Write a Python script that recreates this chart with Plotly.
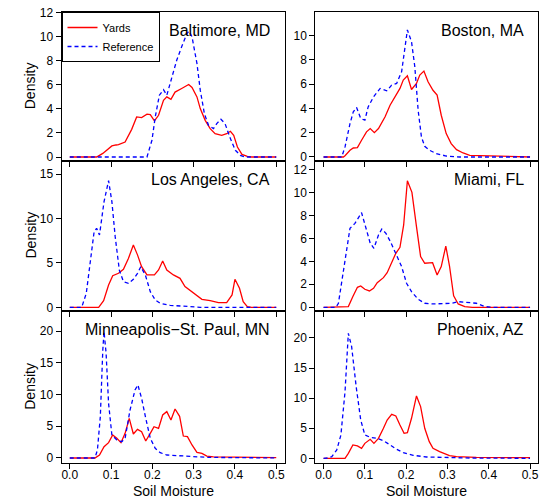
import plotly.graph_objects as go

# ---------------- data ----------------
cities = ["Baltimore, MD", "Boston, MA", "Los Angeles, CA", "Miami, FL",
          "Minneapolis\u2212St. Paul, MN", "Phoenix, AZ"]
x_ticks = [0.0, 0.1, 0.2, 0.3, 0.4, 0.5]

balt_yards_x = [0, 0.065, 0.08, 0.09, 0.102, 0.112, 0.118, 0.134, 0.15, 0.162, 0.174, 0.187, 0.195, 0.205, 0.215, 0.227, 0.235, 0.245, 0.255, 0.271, 0.288, 0.296, 0.308, 0.316, 0.328, 0.34, 0.352, 0.368, 0.38, 0.389, 0.397, 0.406, 0.417, 0.43, 0.44, 0.5]
balt_yards_y = [0, 0, 0.3, 0.6, 0.92, 1.0, 1.03, 1.25, 2.3, 3.33, 3.28, 3.56, 3.53, 3.0, 3.47, 4.72, 5.0, 4.8, 5.4, 5.7, 6.03, 5.78, 5.0, 4.03, 3.05, 2.36, 1.94, 1.8, 1.94, 2.14, 1.8, 0.83, 0.22, 0.05, 0, 0]
balt_ref_x = [0, 0.187, 0.199, 0.207, 0.217, 0.227, 0.235, 0.247, 0.259, 0.271, 0.284, 0.289, 0.296, 0.308, 0.316, 0.326, 0.336, 0.348, 0.356, 0.366, 0.376, 0.389, 0.401, 0.413, 0.425, 0.5]
balt_ref_y = [0, 0, 1.39, 3.33, 5.14, 5.6, 5.14, 6.67, 8.05, 9.17, 10.28, 10.47, 10.0, 7.78, 5.56, 3.61, 2.64, 2.36, 2.78, 3.14, 2.78, 1.53, 0.56, 0.14, 0, 0]

bos_yards_x = [0, 0.048, 0.052, 0.064, 0.072, 0.082, 0.092, 0.104, 0.113, 0.123, 0.133, 0.149, 0.161, 0.173, 0.185, 0.193, 0.203, 0.213, 0.225, 0.233, 0.243, 0.253, 0.265, 0.275, 0.285, 0.297, 0.309, 0.322, 0.338, 0.354, 0.386, 0.426, 0.45, 0.5]
bos_yards_y = [0, 0, 0.1, 0.55, 0.74, 0.77, 1.38, 2.07, 2.34, 2.01, 2.34, 3.31, 4.27, 4.96, 5.65, 6.34, 6.69, 5.56, 6.06, 6.75, 7.08, 6.2, 5.5, 5.1, 3.44, 1.93, 1.1, 0.6, 0.33, 0.14, 0.11, 0.08, 0, 0]
bos_ref_x = [0, 0.044, 0.052, 0.064, 0.072, 0.08, 0.09, 0.1, 0.108, 0.121, 0.137, 0.153, 0.165, 0.177, 0.189, 0.197, 0.203, 0.213, 0.221, 0.229, 0.237, 0.245, 0.257, 0.273, 0.297, 0.33, 0.5]
bos_ref_y = [0, 0, 0.83, 2.75, 3.72, 4.08, 3.17, 3.03, 4.13, 4.96, 5.65, 5.45, 5.92, 6.06, 7.02, 8.8, 10.47, 9.5, 7.44, 3.86, 1.65, 0.88, 0.55, 0.28, 0.08, 0, 0]

la_yards_x = [0, 0.07, 0.082, 0.094, 0.104, 0.118, 0.13, 0.142, 0.154, 0.164, 0.174, 0.187, 0.205, 0.215, 0.225, 0.235, 0.251, 0.267, 0.279, 0.3, 0.32, 0.34, 0.36, 0.38, 0.393, 0.4, 0.411, 0.42, 0.43, 0.44, 0.5]
la_yards_y = [0, 0, 0.75, 2.5, 3.56, 3.83, 4.27, 5.5, 7.0, 5.9, 4.57, 3.64, 3.64, 4.2, 5.2, 4.2, 3.64, 3.26, 2.33, 1.65, 0.9, 0.75, 0.53, 0.53, 1.39, 3.15, 2.14, 0.64, 0.08, 0, 0]
la_ref_x = [0, 0.029, 0.04, 0.049, 0.059, 0.065, 0.072, 0.083, 0.094, 0.102, 0.11, 0.12, 0.13, 0.142, 0.154, 0.164, 0.172, 0.183, 0.195, 0.207, 0.219, 0.243, 0.284, 0.316, 0.5]
la_ref_y = [0, 0, 1.57, 4.57, 8.51, 8.89, 8.14, 11.89, 14.25, 11.89, 7.95, 4.2, 2.89, 2.7, 3.15, 3.82, 4.57, 3.64, 1.76, 0.82, 0.45, 0.22, 0.08, 0, 0]

mia_yards_x = [0, 0.058, 0.06, 0.071, 0.082, 0.09, 0.1, 0.111, 0.121, 0.13, 0.145, 0.154, 0.165, 0.175, 0.185, 0.194, 0.203, 0.214, 0.225, 0.235, 0.245, 0.256, 0.264, 0.275, 0.285, 0.296, 0.305, 0.315, 0.326, 0.342, 0.36, 0.5]
mia_yards_y = [0, 0, 0.06, 0.93, 1.74, 1.86, 1.57, 1.42, 1.65, 2.14, 2.58, 3.01, 3.83, 4.7, 5.22, 7.16, 11.01, 10.0, 7.01, 4.41, 3.83, 3.83, 3.88, 2.81, 3.54, 5.33, 3.59, 0.99, 0.29, 0.06, 0, 0]
mia_ref_x = [0, 0.03, 0.036, 0.048, 0.058, 0.064, 0.076, 0.092, 0.104, 0.113, 0.122, 0.133, 0.141, 0.151, 0.162, 0.175, 0.189, 0.201, 0.213, 0.229, 0.245, 0.265, 0.289, 0.31, 0.326, 0.346, 0.37, 0.39, 0.41, 0.5]
mia_ref_y = [0, 0, 0.35, 3.25, 5.57, 6.87, 7.3, 8.23, 6.72, 5.57, 5.13, 6.29, 6.81, 6.43, 5.71, 4.7, 3.54, 2.09, 1.36, 0.7, 0.35, 0.29, 0.35, 0.35, 0.49, 0.43, 0.35, 0.06, 0, 0]

msp_yards_x = [0, 0.061, 0.072, 0.083, 0.094, 0.104, 0.114, 0.124, 0.134, 0.144, 0.154, 0.164, 0.174, 0.184, 0.195, 0.204, 0.215, 0.225, 0.235, 0.245, 0.255, 0.266, 0.275, 0.285, 0.296, 0.308, 0.32, 0.332, 0.348, 0.4, 0.5]
msp_yards_y = [0, 0, 0.47, 1.78, 2.41, 3.62, 3.1, 2.41, 3.88, 6.25, 3.78, 4.51, 4.15, 2.68, 3.88, 4.93, 4.67, 6.77, 7.3, 5.98, 7.72, 6.56, 3.46, 3.36, 2.05, 0.89, 0.73, 0.31, 0.16, 0.1, 0.05]
msp_ref_x = [0, 0.061, 0.067, 0.074, 0.08, 0.083, 0.088, 0.094, 0.102, 0.114, 0.126, 0.134, 0.146, 0.158, 0.165, 0.174, 0.184, 0.195, 0.207, 0.219, 0.235, 0.267, 0.3, 0.332, 0.5]
msp_ref_y = [0, 0, 1.26, 6.5, 17.0, 19.9, 16.5, 8.6, 3.62, 2.83, 2.57, 3.1, 7.56, 10.7, 11.5, 9.4, 6.25, 3.1, 1.52, 0.84, 0.47, 0.37, 0.21, 0.1, 0]

phx_yards_x = [0, 0.052, 0.06, 0.071, 0.082, 0.092, 0.1, 0.113, 0.122, 0.133, 0.145, 0.154, 0.165, 0.175, 0.185, 0.195, 0.203, 0.213, 0.225, 0.235, 0.245, 0.256, 0.265, 0.281, 0.305, 0.322, 0.37, 0.434, 0.5]
phx_yards_y = [0, 0, 0.83, 2.22, 2.05, 1.66, 2.49, 3.16, 2.49, 3.32, 4.99, 6.37, 7.31, 7.04, 5.54, 4.16, 4.27, 6.65, 10.36, 8.59, 4.99, 2.77, 1.66, 1.11, 0.44, 0.28, 0.17, 0.17, 0.1]
phx_ref_x = [0, 0.01, 0.02, 0.032, 0.042, 0.052, 0.06, 0.068, 0.079, 0.09, 0.1, 0.113, 0.129, 0.145, 0.161, 0.177, 0.193, 0.217, 0.249, 0.297, 0.354, 0.5]
phx_ref_y = [0, 0.05, 0.28, 1.39, 3.88, 11.08, 20.78, 18.56, 11.9, 6.37, 3.88, 3.49, 3.32, 2.94, 2.22, 1.5, 0.94, 0.5, 0.22, 0.11, 0.05, 0]

yards = [(balt_yards_x, balt_yards_y), (bos_yards_x, bos_yards_y), (la_yards_x, la_yards_y),
         (mia_yards_x, mia_yards_y), (msp_yards_x, msp_yards_y), (phx_yards_x, phx_yards_y)]
refs = [(balt_ref_x, balt_ref_y), (bos_ref_x, bos_ref_y), (la_ref_x, la_ref_y),
        (mia_ref_x, mia_ref_y), (msp_ref_x, msp_ref_y), (phx_ref_x, phx_ref_y)]

# ---------------- layout geometry (pixels) ----------------
W, H = 544, 498
cols = [(61.5, 284.5), (315.3, 538.3)]
rows = [(12, 160.5), (160.5, 310.5), (310.5, 463)]
y_ranges = [(-0.29, 12.06), (-0.29, 11.95), (-0.36, 16.52),
            (-0.28, 12.77), (-0.79, 23.23), (-0.78, 24.57)]
y_dticks = [2, 2, 5, 2, 5, 5]

FONT = "Liberation Sans, Arial, Helvetica, sans-serif"

fig = go.Figure()
layout = dict(
    width=W, height=H, autosize=False,
    margin=dict(l=0, r=0, t=0, b=0),
    paper_bgcolor="white", plot_bgcolor="rgba(0,0,0,0)",
    font=dict(family=FONT, color="black", size=12),
    showlegend=True,
    legend=dict(x=61.5 / W, y=1 - 12 / H, xanchor="left", yanchor="top",
                bordercolor="black", borderwidth=1, bgcolor="white",
                font=dict(size=11, family=FONT), tracegroupgap=0,
                itemwidth=30),
    annotations=[],
)

for i in range(6):
    r, c = divmod(i, 2)
    xa = "x" if i == 0 else f"x{i+1}"
    ya = "y" if i == 0 else f"y{i+1}"
    xk = "xaxis" if i == 0 else f"xaxis{i+1}"
    yk = "yaxis" if i == 0 else f"yaxis{i+1}"
    x0, x1 = cols[c]
    t, b = rows[r]
    layout[xk] = dict(domain=[x0 / W, x1 / W], anchor=ya, range=[-0.02, 0.52],
                      tickvals=x_ticks, tickformat=".1f",
                      showticklabels=(r == 2), ticks="outside", ticklen=5,
                      tickwidth=1, tickcolor="black", showline=True, mirror=True,
                      linecolor="black", linewidth=1, showgrid=False, zeroline=False,
                      tickfont=dict(size=12), automargin=False,
                      ticklabelstandoff=-4)
    layout[yk] = dict(domain=[1 - b / H, 1 - t / H], anchor=xa, range=list(y_ranges[i]),
                      dtick=y_dticks[i], tick0=0, ticks="outside", ticklen=5,
                      tickwidth=1, tickcolor="black", showline=True, mirror=True,
                      linecolor="black", linewidth=1, showgrid=False, zeroline=False,
                      tickfont=dict(size=12), automargin=False)
    yx, yy = yards[i]
    rx, ry = refs[i]
    fig.add_trace(go.Scatter(x=yx, y=yy, mode="lines", name="Yards",
                             line=dict(color="#FF0000", width=1.3),
                             xaxis=xa, yaxis=ya, showlegend=(i == 0)))
    fig.add_trace(go.Scatter(x=rx, y=ry, mode="lines", name="Reference",
                             line=dict(color="#0000FF", width=1.3, dash="4px,3px"),
                             xaxis=xa, yaxis=ya, showlegend=(i == 0)))
    # panel title
    layout["annotations"].append(dict(
        text=cities[i], xref="paper", yref="paper",
        x=(x1 - 12.5) / W, y=1 - (t + 18.5) / H, xanchor="right", yanchor="middle",
        showarrow=False, font=dict(size=16, family=FONT, color="black")))
    if c == 0:
        layout["annotations"].append(dict(
            text="Density", xref="paper", yref="paper", textangle=-90,
            x=30 / W, y=1 - ((t + b) / 2) / H, xanchor="center", yanchor="middle",
            showarrow=False, font=dict(size=14, family=FONT, color="black")))
    if r == 2:
        layout["annotations"].append(dict(
            text="Soil Moisture", xref="paper", yref="paper",
            x=((x0 + x1) / 2) / W, y=1 - 490.5 / H, xanchor="center", yanchor="middle",
            showarrow=False, font=dict(size=14, family=FONT, color="black")))

fig.update_layout(**layout)
fig.write_html("out.html",
               config={"displayModeBar": False},
               post_script="document.body.style.margin='0';"
                           "document.body.style.overflow='hidden';")
